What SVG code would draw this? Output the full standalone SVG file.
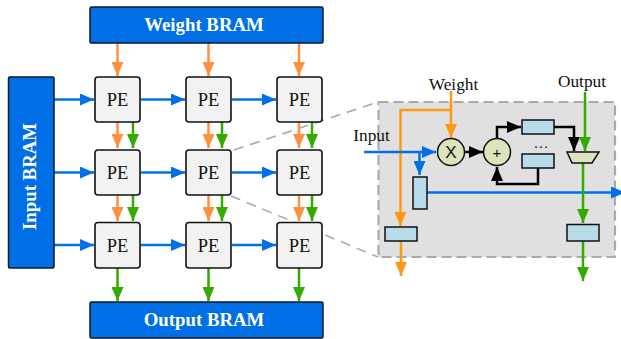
<svg xmlns="http://www.w3.org/2000/svg" width="621" height="339" viewBox="0 0 621 339">
<style>
.bram{fill:#006fe6;stroke:#0a1a2a;stroke-width:1.5}
.bt{font:bold 18.800px "Liberation Serif",serif;fill:#fff;text-anchor:middle}
.pe{fill:#f2f2f2;stroke:#111;stroke-width:1.6}
.pt{font:18.500px "Liberation Serif",serif;fill:#111;text-anchor:middle}
.lb{font:17.300px "Liberation Serif",serif;fill:#111;text-anchor:middle}
.reg{fill:#b7dbe8;stroke:#111;stroke-width:1.5}
.op{fill:#dbe5bd;stroke:#111;stroke-width:1.5}
.c{fill:none;stroke-width:2.500}
.o{stroke:#ff9040}.oo{stroke:#ff9812}.g{stroke:#33aa00}.b{stroke:#0070e8}.k{stroke:#000}
.d{fill:none;stroke:#aaa;stroke-width:1.6;stroke-dasharray:10 7}
</style>
<defs>
<marker id="mo" markerUnits="userSpaceOnUse" markerWidth="14" markerHeight="12" refX="14" refY="6" viewBox="0 0 14 12" orient="auto"><path d="M0 0L14 6L0 12Z" fill="#ff9040"/></marker>
<marker id="moo" markerUnits="userSpaceOnUse" markerWidth="14" markerHeight="12" refX="14" refY="6" viewBox="0 0 14 12" orient="auto"><path d="M0 0L14 6L0 12Z" fill="#ff9812"/></marker>
<marker id="mg" markerUnits="userSpaceOnUse" markerWidth="14" markerHeight="12" refX="14" refY="6" viewBox="0 0 14 12" orient="auto"><path d="M0 0L14 6L0 12Z" fill="#33aa00"/></marker>
<marker id="mb" markerUnits="userSpaceOnUse" markerWidth="14" markerHeight="12" refX="14" refY="6" viewBox="0 0 14 12" orient="auto"><path d="M0 0L14 6L0 12Z" fill="#0070e8"/></marker>
<marker id="mk" markerUnits="userSpaceOnUse" markerWidth="14" markerHeight="12" refX="14" refY="6" viewBox="0 0 14 12" orient="auto"><path d="M0 0L14 6L0 12Z" fill="#000"/></marker>
</defs>
<g id="panel"><rect x="378.500" y="102" width="236.500" height="155" fill="#e0e0e0" stroke="#aaa" stroke-width="2.200" stroke-dasharray="10 5"/></g>
<g id="connectors">
<path class="d" d="M234 150L378 102M231 196L378 257"/>
<g class="c o">
<path marker-end="url(#mo)" d="M117.500 43V76"/><path marker-end="url(#mo)" d="M208.500 43V76"/><path marker-end="url(#mo)" d="M299 43V76"/>
<path marker-end="url(#mo)" d="M117.500 122V148"/><path marker-end="url(#mo)" d="M208.500 122V148"/><path marker-end="url(#mo)" d="M299 122V148"/>
<path marker-end="url(#mo)" d="M117.500 195V221"/><path marker-end="url(#mo)" d="M208.500 195V221"/><path marker-end="url(#mo)" d="M299 195V221"/>
</g>
<g class="c g">
<path marker-end="url(#mg)" d="M133 122V148"/><path marker-end="url(#mg)" d="M222 122V148"/><path marker-end="url(#mg)" d="M312 122V148"/>
<path marker-end="url(#mg)" d="M133 195V221"/><path marker-end="url(#mg)" d="M222 195V221"/><path marker-end="url(#mg)" d="M312 195V221"/>
<path marker-end="url(#mg)" d="M117.500 268V301"/><path marker-end="url(#mg)" d="M208.500 268V301"/><path marker-end="url(#mg)" d="M299 268V301"/>
</g>
<g class="c b">
<path marker-end="url(#mb)" d="M54 99.500H94"/><path marker-end="url(#mb)" d="M141 99.500H185"/><path marker-end="url(#mb)" d="M232 99.500H276"/>
<path marker-end="url(#mb)" d="M54 172.500H94"/><path marker-end="url(#mb)" d="M141 172.500H185"/><path marker-end="url(#mb)" d="M232 172.500H276"/>
<path marker-end="url(#mb)" d="M54 245H94"/><path marker-end="url(#mb)" d="M141 245H185"/><path marker-end="url(#mb)" d="M232 245H276"/>
</g>
<g class="c oo">
<path marker-end="url(#moo)" d="M451 91V138"/>
<path marker-end="url(#moo)" d="M451 110H400.500V226"/>
<path marker-end="url(#moo)" d="M401 241V276"/>
</g>
<g class="c b">
<path marker-end="url(#mb)" d="M364 152H436"/>
<path marker-end="url(#mb)" d="M419.500 152V175"/>
<path marker-end="url(#mb)" d="M427 192.500H625"/>
</g>
<g class="c k">
<path marker-end="url(#mk)" d="M465 152H483"/>
<path marker-end="url(#mk)" d="M497 138V127H521"/>
<path marker-end="url(#mk)" d="M538 168V184H497V167"/>
<path marker-end="url(#mk)" d="M554 127H574V151"/>
</g>
<g class="c g">
<path marker-end="url(#mg)" d="M585 92V151"/>
<path marker-end="url(#mg)" d="M583 163V223"/>
<path marker-end="url(#mg)" d="M583 241V281"/>
</g>
</g>
<g id="weight-bram"><rect class="bram" x="90" y="7" width="233" height="36" rx="1.500"/><text class="bt" x="204" y="31">Weight BRAM</text></g>
<g id="input-bram"><rect class="bram" x="8.500" y="77" width="45.500" height="191" rx="1.500"/><text class="bt" transform="translate(36 176.500) rotate(-90)">Input BRAM</text></g>
<g id="output-bram"><rect class="bram" x="90" y="302" width="233" height="36" rx="1.500"/><text class="bt" x="204" y="326">Output BRAM</text></g>
<g id="pe-1-1"><rect class="pe" x="95" y="77" width="45" height="45" rx="3"/><text class="pt" x="117.500" y="105.500">PE</text></g>
<g id="pe-1-2"><rect class="pe" x="186" y="77" width="45" height="45" rx="3"/><text class="pt" x="208.500" y="105.500">PE</text></g>
<g id="pe-1-3"><rect class="pe" x="277" y="77" width="45" height="45" rx="3"/><text class="pt" x="299.500" y="105.500">PE</text></g>
<g id="pe-2-1"><rect class="pe" x="95" y="150" width="45" height="45" rx="3"/><text class="pt" x="117.500" y="178.500">PE</text></g>
<g id="pe-2-2"><rect class="pe" x="186" y="150" width="45" height="45" rx="3"/><text class="pt" x="208.500" y="178.500">PE</text></g>
<g id="pe-2-3"><rect class="pe" x="277" y="150" width="45" height="45" rx="3"/><text class="pt" x="299.500" y="178.500">PE</text></g>
<g id="pe-3-1"><rect class="pe" x="95" y="222.500" width="45" height="45.500" rx="3"/><text class="pt" x="117.500" y="251.500">PE</text></g>
<g id="pe-3-2"><rect class="pe" x="186" y="222.500" width="45" height="45.500" rx="3"/><text class="pt" x="208.500" y="251.500">PE</text></g>
<g id="pe-3-3"><rect class="pe" x="277" y="222.500" width="45" height="45.500" rx="3"/><text class="pt" x="299.500" y="251.500">PE</text></g>
<g id="label-weight"><text class="lb" x="453.500" y="90">Weight</text></g>
<g id="label-output"><text class="lb" x="582" y="87">Output</text></g>
<g id="label-input"><text class="lb" x="371.500" y="141">Input</text></g>
<g id="mul"><circle class="op" cx="451" cy="152" r="13.500"/><text x="451" y="158" font-family="Liberation Sans,sans-serif" font-size="17" fill="#111" text-anchor="middle">X</text></g>
<g id="add"><circle class="op" cx="497" cy="152" r="13.500"/><text x="497" y="157.500" font-family="Liberation Sans,sans-serif" font-size="15" fill="#111" text-anchor="middle">+</text></g>
<g id="reg-top"><rect class="reg" x="522" y="120" width="32" height="14"/></g>
<g id="dots"><text x="541" y="148" font-family="Liberation Serif,serif" font-size="15" fill="#111" text-anchor="middle">…</text></g>
<g id="reg-bottom"><rect class="reg" x="522" y="154" width="32" height="14"/></g>
<g id="mux"><path class="op" d="M567 152H599L592 163H572Z"/></g>
<g id="reg-input"><rect class="reg" x="413" y="177" width="14" height="32"/></g>
<g id="reg-weight"><rect class="reg" x="385" y="227" width="32" height="14"/></g>
<g id="reg-output"><rect class="reg" x="567" y="224.500" width="32" height="16.500"/></g>
</svg>
